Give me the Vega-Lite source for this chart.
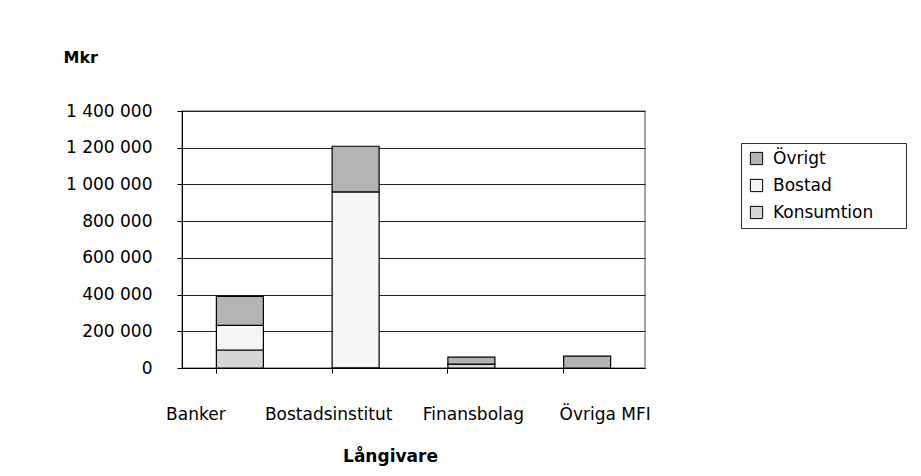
{
  "$schema": "https://vega.github.io/schema/vega-lite/v6.json",
  "width": 463,
  "height": 257,
  "autosize": "none",
  "padding": {"left": 182, "top": 111, "right": 276, "bottom": 108},
  "background": "white",
  "config": {
    "font": "DejaVu Sans",
    "locale": {"number": {"decimal": ",", "thousands": " ", "grouping": [3], "currency": ["", " kr"]}},
    "view": {"stroke": "#888888", "strokeWidth": 1.5}
  },
  "data": {
    "values": [
      {"Långivare": "Banker", "Kategori": "Konsumtion", "Mkr": 98000},
      {"Långivare": "Banker", "Kategori": "Bostad", "Mkr": 134000},
      {"Långivare": "Banker", "Kategori": "Övrigt", "Mkr": 158000},
      {"Långivare": "Bostadsinstitut", "Kategori": "Konsumtion", "Mkr": 1000},
      {"Långivare": "Bostadsinstitut", "Kategori": "Bostad", "Mkr": 958000},
      {"Långivare": "Bostadsinstitut", "Kategori": "Övrigt", "Mkr": 249000},
      {"Långivare": "Finansbolag", "Kategori": "Konsumtion", "Mkr": 20000},
      {"Långivare": "Finansbolag", "Kategori": "Bostad", "Mkr": 1000},
      {"Långivare": "Finansbolag", "Kategori": "Övrigt", "Mkr": 38000},
      {"Långivare": "Övriga MFI", "Kategori": "Övrigt", "Mkr": 65000}
    ]
  },
  "transform": [
    {"calculate": "indexof(['Konsumtion', 'Bostad', 'Övrigt'], datum.Kategori)", "as": "stackRank"}
  ],
  "mark": {"type": "bar", "stroke": "black", "strokeWidth": 1.2},
  "encoding": {
    "x": {
      "field": "Långivare",
      "type": "nominal",
      "sort": ["Banker", "Bostadsinstitut", "Finansbolag", "Övriga MFI"],
      "scale": {"paddingInner": 0.594, "paddingOuter": 0.297},
      "axis": {
        "labelAngle": 0,
        "labelFontSize": 17,
        "labelColor": "black",
        "labelPadding": 33,
        "labelOffset": {"expr": "datum.value == 'Banker' ? -44 : datum.value == 'Bostadsinstitut' ? -27 : datum.value == 'Finansbolag' ? 2 : 18"},
        "bandPosition": 0,
        "ticks": true,
        "tickSize": 5,
        "tickColor": "black",
        "domainColor": "black",
        "title": "Långivare",
        "titleFontSize": 17,
        "titleFontWeight": "bold",
        "titleColor": "black",
        "titleX": 208,
        "titleY": 88,
        "titleBaseline": "middle"
      }
    },
    "y": {
      "field": "Mkr",
      "type": "quantitative",
      "stack": "zero",
      "scale": {"domain": [0, 1400000], "nice": false},
      "axis": {
        "values": [0, 200000, 400000, 600000, 800000, 1000000, 1200000, 1400000],
        "format": ",d",
        "labelFontSize": 17,
        "labelColor": "black",
        "labelPadding": 25,
        "tickSize": 5,
        "tickColor": "black",
        "domainColor": "black",
        "grid": true,
        "gridColor": "#222222",
        "gridWidth": 1,
        "title": "Mkr",
        "titleAngle": 0,
        "titleFontSize": 16,
        "titleFontWeight": "bold",
        "titleColor": "black",
        "titleAlign": "left",
        "titleBaseline": "middle",
        "titleX": -119,
        "titleY": -54
      }
    },
    "order": {"field": "stackRank", "type": "quantitative", "sort": "ascending"},
    "color": {
      "field": "Kategori",
      "type": "nominal",
      "sort": ["Övrigt", "Bostad", "Konsumtion"],
      "scale": {"domain": ["Övrigt", "Bostad", "Konsumtion"], "range": ["#B3B3B3", "#F6F6F6", "#D6D6D6"]},
      "legend": {
        "title": null,
        "orient": "none",
        "legendX": 559,
        "legendY": 32,
        "strokeColor": "#333333",
        "padding": 7,
        "symbolType": "square",
        "symbolSize": 150,
        "symbolStrokeColor": "black",
        "symbolStrokeWidth": 1,
        "labelFontSize": 17,
        "labelColor": "black",
        "labelExpr": "datum.label + '\u2800\u2800'",
        "rowPadding": 9,
        "labelOffset": 8
      }
    }
  }
}
